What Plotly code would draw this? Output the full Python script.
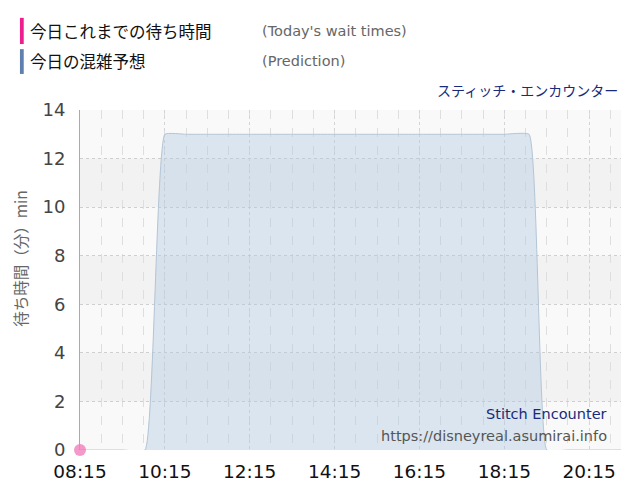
import plotly.graph_objects as go

pred_times = ["08:15", "08:45", "09:15", "09:47", "10:15", "10:45", "11:15", "11:45",
              "12:15", "12:45", "13:15", "13:45", "14:15", "14:45", "15:15", "15:45",
              "16:15", "16:45", "17:15", "17:45", "18:15", "18:50", "19:15", "19:45",
              "20:15", "20:45", "21:00"]
pred_wait = [0, 0, 0, 0, 13, 13, 13, 13,
             13, 13, 13, 13, 13, 13, 13, 13,
             13, 13, 13, 13, 13, 13, 0, 0,
             0, 0, 0]

actual_times = ["08:15"]
actual_wait = [0]

tick_labels = ["08:15", "10:15", "12:15", "14:15", "16:15", "18:15", "20:15"]

day = "2024-01-01 "
jp = "Noto Sans CJK JP"
num = "DejaVu Sans"

fig = go.Figure()

fig.add_trace(go.Scatter(
    x=[day + t for t in pred_times], y=pred_wait,
    mode="lines", line=dict(color="#b4c5d5", width=1, shape="spline", smoothing=0.35),
    fill="tozeroy", fillcolor="rgba(172,200,224,0.4)",
    hoverinfo="skip", showlegend=False,
))
fig.add_trace(go.Scatter(
    x=[day + t for t in actual_times], y=actual_wait,
    mode="markers", marker=dict(color="rgba(240,110,180,0.7)", size=12),
    cliponaxis=False, showlegend=False,
))

# alternating horizontal bands
shapes = []
for lo in (2, 6, 10):
    shapes.append(dict(type="rect", xref="paper", yref="y", x0=0, x1=1, y0=lo, y1=lo + 2,
                       fillcolor="#f2f2f2", line_width=0, layer="below"))
# legend colour bars
shapes.append(dict(type="rect", xref="paper", yref="paper", x0=-0.111, x1=-0.104,
                   y0=1.271, y1=1.194, fillcolor="#ee1f8d", line_width=0))
shapes.append(dict(type="rect", xref="paper", yref="paper", x0=-0.111, x1=-0.104,
                   y0=1.179, y1=1.106, fillcolor="#5f7fae", line_width=0))


def note(text, x, y, anchor, family, size, color, angle=0):
    return dict(text=text, x=x, y=y, xref="paper", yref="paper", textangle=angle,
                xanchor=anchor, yanchor="middle", showarrow=False,
                font=dict(family=family, size=size, color=color))


annotations = [
    note("今日これまでの待ち時間", -0.097, 1.232, "left", jp, 16.5, "#111"),
    note("(Today's wait times)", 0.333, 1.232, "left", num, 14.5, "#666"),
    note("今日の混雑予想", -0.097, 1.144, "left", jp, 16.5, "#111"),
    note("(Prediction)", 0.333, 1.144, "left", num, 14.5, "#666"),
    note("スティッチ・エンカウンター", 0.998, 1.059, "right", jp, 14, "#1a2a7a"),
    note("Stitch Encounter", 0.978, 0.106, "right", num, 14.5, "#1a2a7a"),
    note("https://disneyreal.asumirai.info", 0.978, 0.041, "right", num, 14.5, "#555"),
    note("待ち時間（分）min", -0.111, 0.565, "center", jp, 15.5, "#666", angle=-90),
]

fig.update_layout(
    width=624, height=484,
    margin=dict(l=72, r=11, t=102, b=42),
    paper_bgcolor="white", plot_bgcolor="#f9f9f9",
    shapes=shapes, annotations=annotations,
    xaxis=dict(
        type="date", range=[day + "08:15", day + "21:00"],
        tickvals=[day + t for t in tick_labels], ticktext=tick_labels,
        showgrid=True, gridcolor="#d4d4d4", griddash="dot", gridwidth=1,
        minor=dict(dtick=30 * 60 * 1000, tick0=day + "08:15", showgrid=True,
                   gridcolor="#dedede", griddash="dash", gridwidth=1),
        zeroline=False, showline=False, ticks="", ticklabelstandoff=8,
        tickfont=dict(family=num, size=18.5, color="#111"),
    ),
    yaxis=dict(
        range=[0, 14], dtick=2, showgrid=True, gridcolor="#cfcfcf", griddash="dot",
        zeroline=False, showline=True, linecolor="#aaaaaa", linewidth=1, ticks="",
        ticklabelstandoff=10,
        tickfont=dict(family=num, size=18, color="#444"),
    ),
)

fig.write_html("out.html")
